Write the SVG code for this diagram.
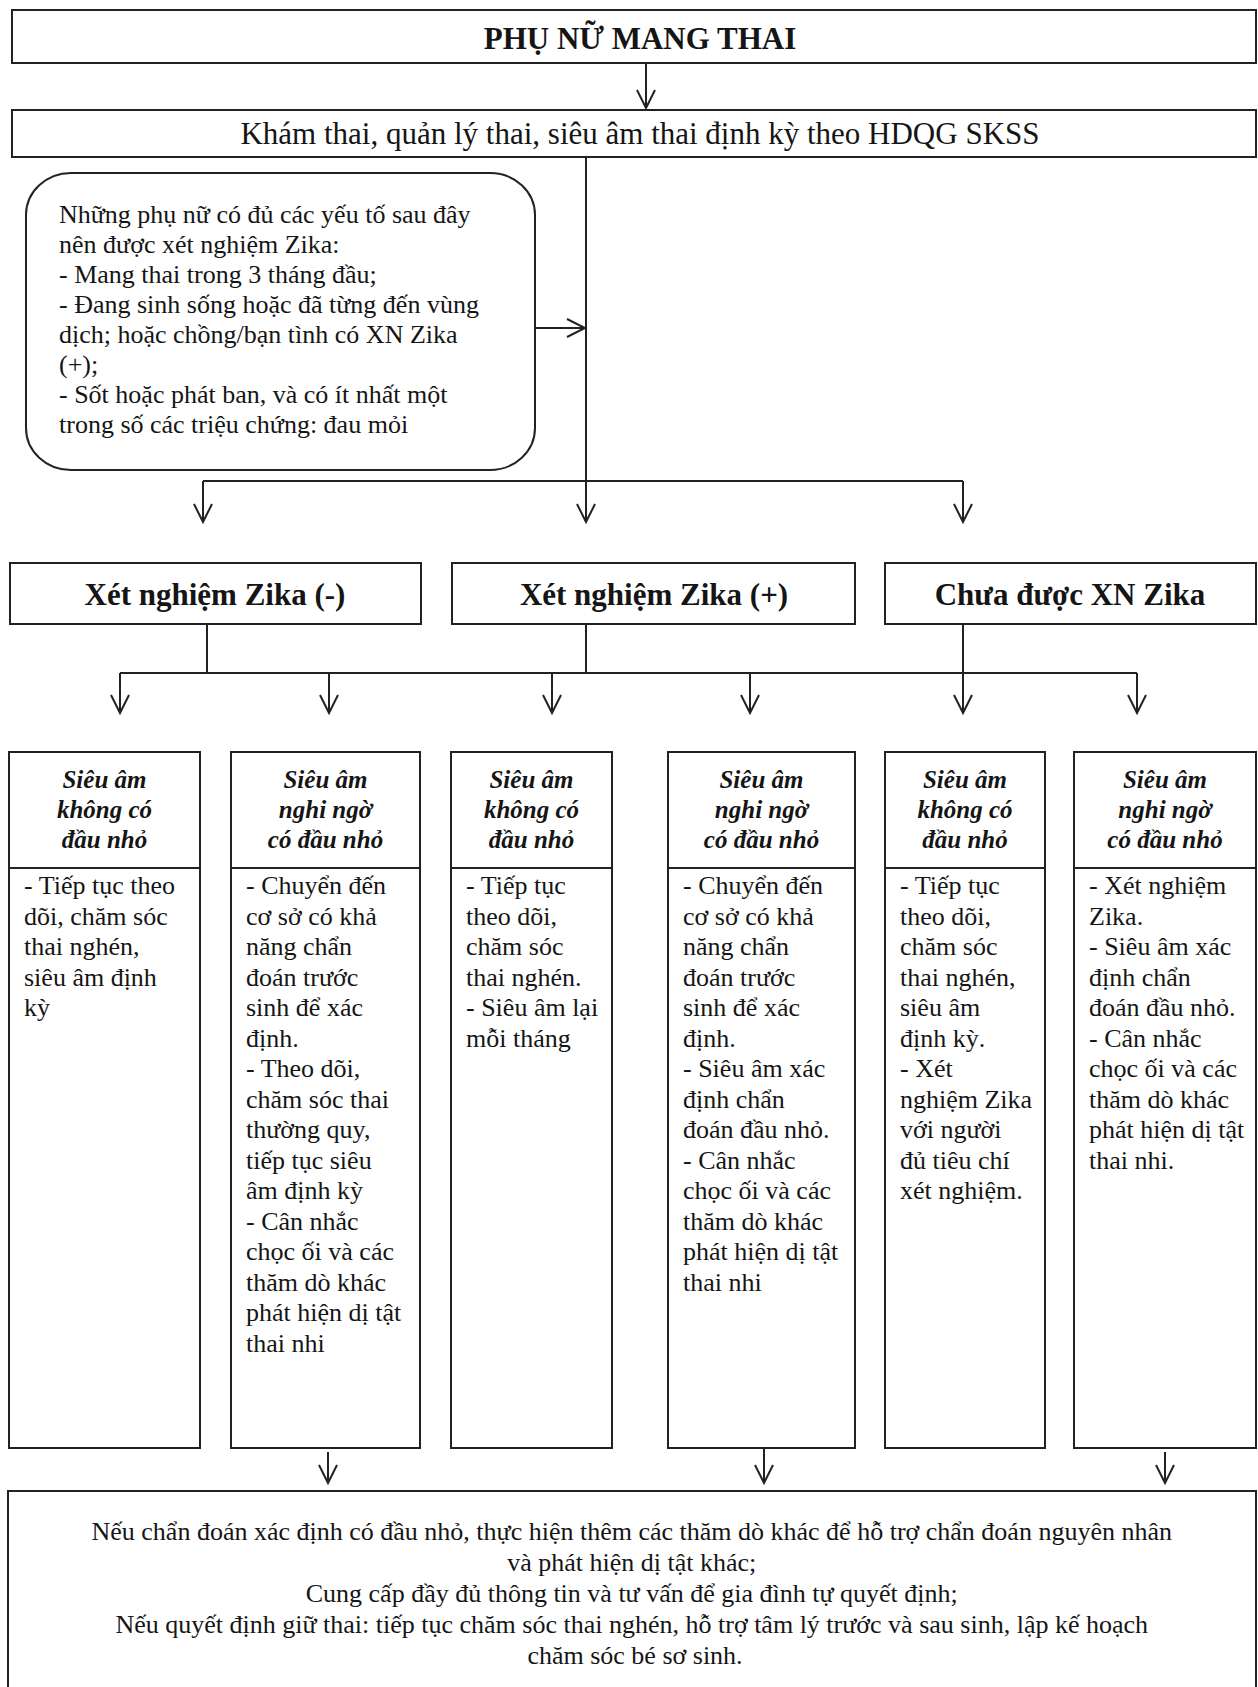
<svg xmlns="http://www.w3.org/2000/svg" width="1258" height="1687" viewBox="0 0 1258 1687">
<style>
.bx{fill:#fff;stroke:#222;stroke-width:2}
.ln{fill:none;stroke:#222;stroke-width:2}
.ar{fill:none;stroke:#222;stroke-width:2;marker-end:url(#v)}
text{font-family:"Liberation Serif","Times New Roman",serif;fill:#151515}
.h1{font-size:31px;font-weight:bold;text-anchor:middle}
.h2{font-size:31px;text-anchor:middle}
.hd{font-size:25px;font-weight:bold;font-style:italic;text-anchor:middle}
.b{font-size:26px}
.c{text-anchor:middle}
</style>
<defs>
<marker id="v" markerWidth="22" markerHeight="22" refX="19" refY="10" orient="auto" markerUnits="userSpaceOnUse">
<path d="M1,1 L19,10 L1,19" fill="none" stroke="#222" stroke-width="2"/>
</marker>
</defs>
<rect width="1258" height="1687" fill="#fff"/>

<g id="connectors">
<line class="ar" x1="646" y1="63" x2="646" y2="108"/>
<line class="ar" x1="586" y1="157" x2="586" y2="522"/>
<line class="ar" x1="535" y1="328" x2="585" y2="328"/>
<line class="ln" x1="203" y1="481" x2="963" y2="481"/>
<line class="ar" x1="203" y1="481" x2="203" y2="522"/>
<line class="ar" x1="963" y1="481" x2="963" y2="522"/>
<line class="ln" x1="207" y1="624" x2="207" y2="673"/>
<line class="ln" x1="586" y1="624" x2="586" y2="673"/>
<line class="ln" x1="963" y1="624" x2="963" y2="673"/>
<line class="ln" x1="120" y1="673" x2="1137" y2="673"/>
<line class="ar" x1="120" y1="673" x2="120" y2="713"/>
<line class="ar" x1="329" y1="673" x2="329" y2="713"/>
<line class="ar" x1="552" y1="673" x2="552" y2="713"/>
<line class="ar" x1="750" y1="673" x2="750" y2="713"/>
<line class="ar" x1="963" y1="673" x2="963" y2="713"/>
<line class="ar" x1="1137" y1="673" x2="1137" y2="713"/>
<line class="ar" x1="328" y1="1452" x2="328" y2="1483"/>
<line class="ar" x1="764" y1="1449" x2="764" y2="1483"/>
<line class="ar" x1="1165" y1="1452" x2="1165" y2="1483"/>
</g>

<g id="n-top">
<rect class="bx" x="12" y="10" width="1244" height="53"/>
<text class="h1" x="640" y="49">PHỤ NỮ MANG THAI</text>
</g>

<g id="n-kham">
<rect class="bx" x="12" y="110" width="1244" height="47"/>
<text class="h2" x="640" y="144">Khám thai, quản lý thai, siêu âm thai định kỳ theo HDQG SKSS</text>
</g>

<g id="n-criteria">
<rect class="bx" x="26" y="173" width="509" height="297" rx="45" ry="42"/>
<text class="b" x="59" y="223">
<tspan x="59" y="223">Những phụ nữ có đủ các yếu tố sau đây</tspan>
<tspan x="59" y="253">nên được xét nghiệm Zika:</tspan>
<tspan x="59" y="283">- Mang thai trong 3 tháng đầu;</tspan>
<tspan x="59" y="313">- Đang sinh sống hoặc đã từng đến vùng</tspan>
<tspan x="59" y="343">dịch; hoặc chồng/bạn tình có XN Zika</tspan>
<tspan x="59" y="373">(+);</tspan>
<tspan x="59" y="403">- Sốt hoặc phát ban, và có ít nhất một</tspan>
<tspan x="59" y="433">trong số các triệu chứng: đau mỏi</tspan>
</text>
</g>

<g id="n-neg">
<rect class="bx" x="10" y="563" width="411" height="61"/>
<text class="h1" x="215" y="605">Xét nghiệm Zika (-)</text>
</g>
<g id="n-pos">
<rect class="bx" x="452" y="563" width="403" height="61"/>
<text class="h1" x="654" y="605">Xét nghiệm Zika (+)</text>
</g>
<g id="n-none">
<rect class="bx" x="885" y="563" width="371" height="61"/>
<text class="h1" x="1070" y="605">Chưa được XN Zika</text>
</g>

<g id="n-c1">
<rect class="bx" x="9" y="752" width="191" height="696"/>
<line class="ln" x1="9" y1="868" x2="200" y2="868"/>
<text class="hd"><tspan x="104.5" y="788">Siêu âm</tspan><tspan x="104.5" y="818">không có</tspan><tspan x="104.5" y="848">đầu nhỏ</tspan></text>
<text class="b">
<tspan x="24" y="894">- Tiếp tục theo</tspan>
<tspan x="24" dy="30.5">dõi, chăm sóc</tspan>
<tspan x="24" dy="30.5">thai nghén,</tspan>
<tspan x="24" dy="30.5">siêu âm định</tspan>
<tspan x="24" dy="30.5">kỳ</tspan>
</text>
</g>

<g id="n-c2">
<rect class="bx" x="231" y="752" width="189" height="696"/>
<line class="ln" x1="231" y1="868" x2="420" y2="868"/>
<text class="hd"><tspan x="325.5" y="788">Siêu âm</tspan><tspan x="325.5" y="818">nghi ngờ</tspan><tspan x="325.5" y="848">có đầu nhỏ</tspan></text>
<text class="b">
<tspan x="246" y="894">- Chuyển đến</tspan>
<tspan x="246" dy="30.5">cơ sở có khả</tspan>
<tspan x="246" dy="30.5">năng chẩn</tspan>
<tspan x="246" dy="30.5">đoán trước</tspan>
<tspan x="246" dy="30.5">sinh để xác</tspan>
<tspan x="246" dy="30.5">định.</tspan>
<tspan x="246" dy="30.5">- Theo dõi,</tspan>
<tspan x="246" dy="30.5">chăm sóc thai</tspan>
<tspan x="246" dy="30.5">thường quy,</tspan>
<tspan x="246" dy="30.5">tiếp tục siêu</tspan>
<tspan x="246" dy="30.5">âm định kỳ</tspan>
<tspan x="246" dy="30.5">- Cân nhắc</tspan>
<tspan x="246" dy="30.5">chọc ối và các</tspan>
<tspan x="246" dy="30.5">thăm dò khác</tspan>
<tspan x="246" dy="30.5">phát hiện dị tật</tspan>
<tspan x="246" dy="30.5">thai nhi</tspan>
</text>
</g>

<g id="n-c3">
<rect class="bx" x="451" y="752" width="161" height="696"/>
<line class="ln" x1="451" y1="868" x2="612" y2="868"/>
<text class="hd"><tspan x="531.5" y="788">Siêu âm</tspan><tspan x="531.5" y="818">không có</tspan><tspan x="531.5" y="848">đầu nhỏ</tspan></text>
<text class="b">
<tspan x="466" y="894">- Tiếp tục</tspan>
<tspan x="466" dy="30.5">theo dõi,</tspan>
<tspan x="466" dy="30.5">chăm sóc</tspan>
<tspan x="466" dy="30.5">thai nghén.</tspan>
<tspan x="466" dy="30.5">- Siêu âm lại</tspan>
<tspan x="466" dy="30.5">mỗi tháng</tspan>
</text>
</g>

<g id="n-c4">
<rect class="bx" x="668" y="752" width="187" height="696"/>
<line class="ln" x1="668" y1="868" x2="855" y2="868"/>
<text class="hd"><tspan x="761.5" y="788">Siêu âm</tspan><tspan x="761.5" y="818">nghi ngờ</tspan><tspan x="761.5" y="848">có đầu nhỏ</tspan></text>
<text class="b">
<tspan x="683" y="894">- Chuyển đến</tspan>
<tspan x="683" dy="30.5">cơ sở có khả</tspan>
<tspan x="683" dy="30.5">năng chẩn</tspan>
<tspan x="683" dy="30.5">đoán trước</tspan>
<tspan x="683" dy="30.5">sinh để xác</tspan>
<tspan x="683" dy="30.5">định.</tspan>
<tspan x="683" dy="30.5">- Siêu âm xác</tspan>
<tspan x="683" dy="30.5">định chẩn</tspan>
<tspan x="683" dy="30.5">đoán đầu nhỏ.</tspan>
<tspan x="683" dy="30.5">- Cân nhắc</tspan>
<tspan x="683" dy="30.5">chọc ối và các</tspan>
<tspan x="683" dy="30.5">thăm dò khác</tspan>
<tspan x="683" dy="30.5">phát hiện dị tật</tspan>
<tspan x="683" dy="30.5">thai nhi</tspan>
</text>
</g>

<g id="n-c5">
<rect class="bx" x="885" y="752" width="160" height="696"/>
<line class="ln" x1="885" y1="868" x2="1045" y2="868"/>
<text class="hd"><tspan x="965" y="788">Siêu âm</tspan><tspan x="965" y="818">không có</tspan><tspan x="965" y="848">đầu nhỏ</tspan></text>
<text class="b">
<tspan x="900" y="894">- Tiếp tục</tspan>
<tspan x="900" dy="30.5">theo dõi,</tspan>
<tspan x="900" dy="30.5">chăm sóc</tspan>
<tspan x="900" dy="30.5">thai nghén,</tspan>
<tspan x="900" dy="30.5">siêu âm</tspan>
<tspan x="900" dy="30.5">định kỳ.</tspan>
<tspan x="900" dy="30.5">- Xét</tspan>
<tspan x="900" dy="30.5">nghiệm Zika</tspan>
<tspan x="900" dy="30.5">với người</tspan>
<tspan x="900" dy="30.5">đủ tiêu chí</tspan>
<tspan x="900" dy="30.5">xét nghiệm.</tspan>
</text>
</g>

<g id="n-c6">
<rect class="bx" x="1074" y="752" width="182" height="696"/>
<line class="ln" x1="1074" y1="868" x2="1256" y2="868"/>
<text class="hd"><tspan x="1165" y="788">Siêu âm</tspan><tspan x="1165" y="818">nghi ngờ</tspan><tspan x="1165" y="848">có đầu nhỏ</tspan></text>
<text class="b">
<tspan x="1089" y="894">- Xét nghiệm</tspan>
<tspan x="1089" dy="30.5">Zika.</tspan>
<tspan x="1089" dy="30.5">- Siêu âm xác</tspan>
<tspan x="1089" dy="30.5">định chẩn</tspan>
<tspan x="1089" dy="30.5">đoán đầu nhỏ.</tspan>
<tspan x="1089" dy="30.5">- Cân nhắc</tspan>
<tspan x="1089" dy="30.5">chọc ối và các</tspan>
<tspan x="1089" dy="30.5">thăm dò khác</tspan>
<tspan x="1089" dy="30.5">phát hiện dị tật</tspan>
<tspan x="1089" dy="30.5">thai nhi.</tspan>
</text>
</g>

<g id="n-final">
<rect class="bx" x="8" y="1491" width="1248" height="220"/>
<text class="b c">
<tspan x="635" y="1540">Nếu chẩn đoán xác định có đầu nhỏ, thực hiện thêm các thăm dò khác để hỗ trợ chẩn đoán nguyên nhân</tspan>
<tspan x="635" y="1571">và phát hiện dị tật khác;</tspan>
<tspan x="635" y="1602">Cung cấp đầy đủ thông tin và tư vấn để gia đình tự quyết định;</tspan>
<tspan x="635" y="1633">Nếu quyết định giữ thai: tiếp tục chăm sóc thai nghén, hỗ trợ tâm lý trước và sau sinh, lập kế hoạch</tspan>
<tspan x="635" y="1664">chăm sóc bé sơ sinh.</tspan>
</text>
</g>
</svg>
